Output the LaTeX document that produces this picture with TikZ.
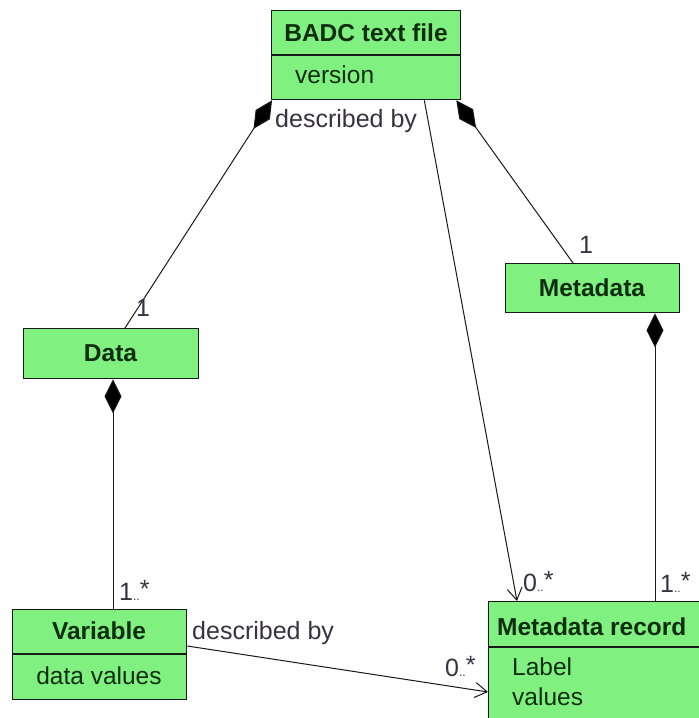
\documentclass[tikz,border=0pt]{standalone}
\usepackage{fontspec}
\setmainfont{Liberation Sans}
\usetikzlibrary{arrows.meta}
\definecolor{boxgreen}{RGB}{128,240,128}
\definecolor{linec}{RGB}{25,25,25}
\definecolor{txtc}{RGB}{15,45,15}
\definecolor{lblc}{RGB}{55,50,65}
\begin{document}
\begin{tikzpicture}[x=1pt,y=-1pt,
  cls/.style={draw=linec, line width=1.3pt, fill=boxgreen, inner sep=0pt, anchor=north west},
  hdr/.style={font=\fontsize{24.5}{26}\selectfont\bfseries, text=txtc, inner sep=0pt},
  attr/.style={font=\fontsize{24.5}{26}\selectfont, text=txtc, inner sep=0pt},
  lbl/.style={font=\fontsize{25}{26}\selectfont, text=lblc, inner sep=0pt},
  conn/.style={draw=linec, line width=1pt},
  comp/.style={conn, {Diamond[length=34pt,width=17pt,fill=black]}-},
  nav/.style={conn, -{Straight Barb[length=12pt,width=15pt]}}
]
\useasboundingbox (0,0) rectangle (699,718);
\clip (0,0) rectangle (699,718);
\fill[white] (0,0) rectangle (699,718);

% classes
\node[cls, minimum width=189pt, minimum height=89pt] (badc) at (271,10) {};
\draw[linec, line width=1.3pt] ([yshift=-45pt]badc.north west) -- ([yshift=-45pt]badc.north east);
\node[hdr] (badcT) at (366,33) {BADC text file};
\node[attr, anchor=west] (badcA) at (295,75) {version};

\node[cls, minimum width=175pt, minimum height=50pt] (data) at (23,328) {};
\node[hdr] (dataT) at (110.5,353) {Data};

\node[cls, minimum width=174pt, minimum height=49pt] (meta) at (505,263) {};
\node[hdr] (metaT) at (592,288) {Metadata};

\node[cls, minimum width=174pt, minimum height=90pt] (var) at (12,609) {};
\draw[linec, line width=1.3pt] ([yshift=-45pt]var.north west) -- ([yshift=-45pt]var.north east);
\node[hdr] (varT) at (99,631) {Variable};
\node[attr] (varA) at (99,676) {data values};

\node[cls, minimum width=240pt, minimum height=140pt] (rec) at (488,601) {};
\draw[linec, line width=1.3pt] ([yshift=-46pt]rec.north west) -- ([yshift=-46pt]rec.north east);
\node[hdr, anchor=west] (recT) at (497,627) {Metadata record};
\node[attr, anchor=west] (recA1) at (512,667) {Label};
\node[attr, anchor=west] (recA2) at (512,697) {values};

% connectors
\coordinate (b1) at ([xshift=1pt]badc.south west);
\coordinate (d1) at ([xshift=102pt]data.north west);
\draw[comp] (b1) -- (d1);

\coordinate (b2) at ([xshift=-5pt]badc.south east);
\coordinate (m1) at ([xshift=68pt]meta.north west);
\draw[comp] (b2) -- (m1);

\coordinate (b3) at ([xshift=-37pt]badc.south east);
\coordinate (r1) at ([xshift=29pt]rec.north west);
\draw[nav] (b3) -- (r1);

\coordinate (d2) at ([xshift=90pt]data.south west);
\coordinate (v1) at ([xshift=101pt]var.north west);
\draw[comp] (d2) -- (v1);

\coordinate (m2) at ([xshift=150pt]meta.south west);
\coordinate (r2) at ([xshift=167pt]rec.north west);
\draw[comp] (m2) -- (r2);

\coordinate (v2) at ([yshift=-37pt]var.north east);
\coordinate (r3) at ([yshift=-91pt]rec.north west);
\draw[nav] (v2) -- (r3);

% labels
\node[lbl, anchor=west] (l1) at (275,121) {described by};
\node[lbl] (l2) at (143,308) {1};
\node[lbl] (l3) at (586,245) {1};
\node[lbl, anchor=west] (l4) at (119,590) {1{\fontsize{12}{12}\selectfont..}\raisebox{3pt}{*}};
\node[lbl, anchor=west] (l5) at (523,582) {0{\fontsize{12}{12}\selectfont..}\raisebox{3pt}{*}};
\node[lbl, anchor=west] (l6) at (660,582) {1{\fontsize{12}{12}\selectfont..}\raisebox{3pt}{*}};
\node[lbl, anchor=west] (l7) at (445,667) {0{\fontsize{12}{12}\selectfont..}\raisebox{3pt}{*}};
\node[lbl, anchor=west] (l8) at (192,633) {described by};
\end{tikzpicture}
\end{document}
